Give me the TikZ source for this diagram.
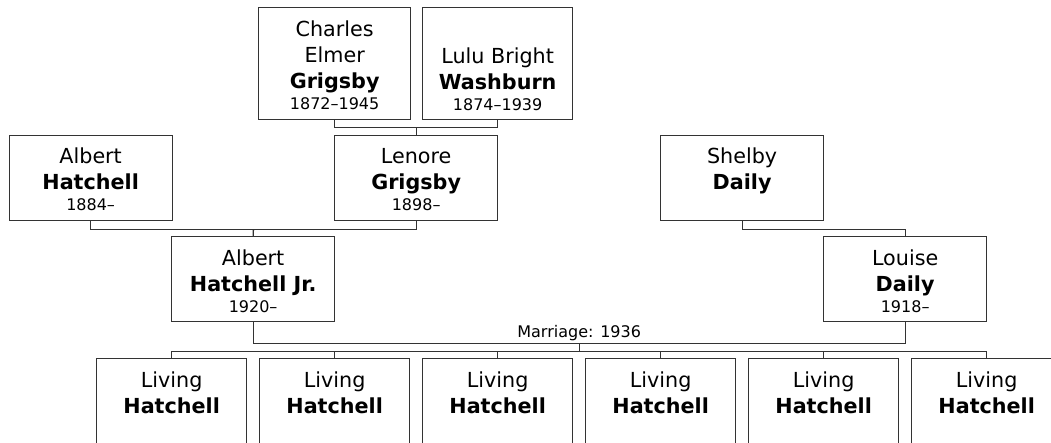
\documentclass[tikz,border=0pt]{standalone}
\usepackage{fontspec}
\setmainfont{DejaVu Sans}
\usetikzlibrary{calc}
\tikzset{
  person/.style={draw=black!80, line width=1.3pt, inner sep=0pt, anchor=north west, fill=white},
  link/.style={draw=black!80, line width=1.3pt},
}
\newcommand{\pcard}[4]{\begin{minipage}[t][#2][t]{#1}\centering\rule{0pt}{#3}#4\end{minipage}}
\newcommand{\fnm}[1]{{\fontsize{20.7pt}{26pt}\selectfont #1\par}}
\newcommand{\snm}[1]{{\fontsize{20.7pt}{26pt}\selectfont\bfseries #1\par}}
\newcommand{\yrs}[1]{{\fontsize{16pt}{21pt}\selectfont #1\par}}
\begin{document}
\begin{tikzpicture}[x=1pt,y=-1pt]
\useasboundingbox (0,0) rectangle (1051,442);
\clip (0,0) rectangle (1051,442);
% grandparents
\node[person] (charles) at (258,7) {\pcard{152pt}{112pt}{28.5pt}{\fnm{Charles}\fnm{Elmer}\snm{Grigsby}\yrs{1872--1945}}};
\node[person] (lulu) at (422,7) {\pcard{150pt}{112pt}{55.5pt}{\fnm{Lulu Bright}\snm{Washburn}\yrs{1874--1939}}};
% parents' parents
\node[person] (albert) at (8.5,135) {\pcard{163pt}{85pt}{28pt}{\fnm{Albert}\snm{Hatchell}\yrs{1884--}}};
\node[person] (lenore) at (334,135) {\pcard{163pt}{85pt}{28pt}{\fnm{Lenore}\snm{Grigsby}\yrs{1898--}}};
\node[person] (shelby) at (660,135) {\pcard{163pt}{85pt}{28pt}{\fnm{Shelby}\snm{Daily}}};
% parents
\node[person] (albertjr) at (171,236) {\pcard{163pt}{85pt}{28.5pt}{\fnm{Albert}\snm{Hatchell Jr.}\yrs{1920--}}};
\node[person] (louise) at (823,236) {\pcard{163pt}{85pt}{28.5pt}{\fnm{Louise}\snm{Daily}\yrs{1918--}}};
% children
\foreach \i/\x in {1/96,2/259,3/422,4/585,5/748,6/911}{
  \node[person] (c\i) at (\x,358) {\pcard{150pt}{100pt}{28.5pt}{\fnm{Living}\snm{Hatchell}}};
}
% connectors
\coordinate (j1) at ($(charles.south)!0.5!(lulu.south)+(0,7)$);
\draw[link] (charles.south) |- (j1) -| (lulu.south);
\draw[link] (j1) -- (lenore.north);
\coordinate (j2) at ($(albert.south)!0.5!(lenore.south)+(0,8)$);
\draw[link] (albert.south) |- (j2) -| (lenore.south);
\draw[link] (j2) -- (albertjr.north);
\coordinate (j3) at ($(shelby.south)+(0,8)$);
\draw[link] (shelby.south) -- (j3) -| (louise.north);
\coordinate (j4) at ($(albertjr.south)!0.5!(louise.south)+(0,21)$);
\draw[link] (albertjr.south) |- (j4) -| (louise.south);
\coordinate (j5) at ($(j4)+(0,8)$);
\draw[link] (j4) -- (j5);
\draw[link] (c1.north) |- (j5) -| (c6.north);
\foreach \i in {2,3,4,5}{\draw[link] (c\i.north) -- (c\i.north |- j5);}
\node[anchor=base, inner sep=0pt, font=\fontsize{16pt}{19pt}\selectfont] (mlabel) at ($(j4)+(0,-5.5)$) {Marriage: 1936};
\end{tikzpicture}
\end{document}
